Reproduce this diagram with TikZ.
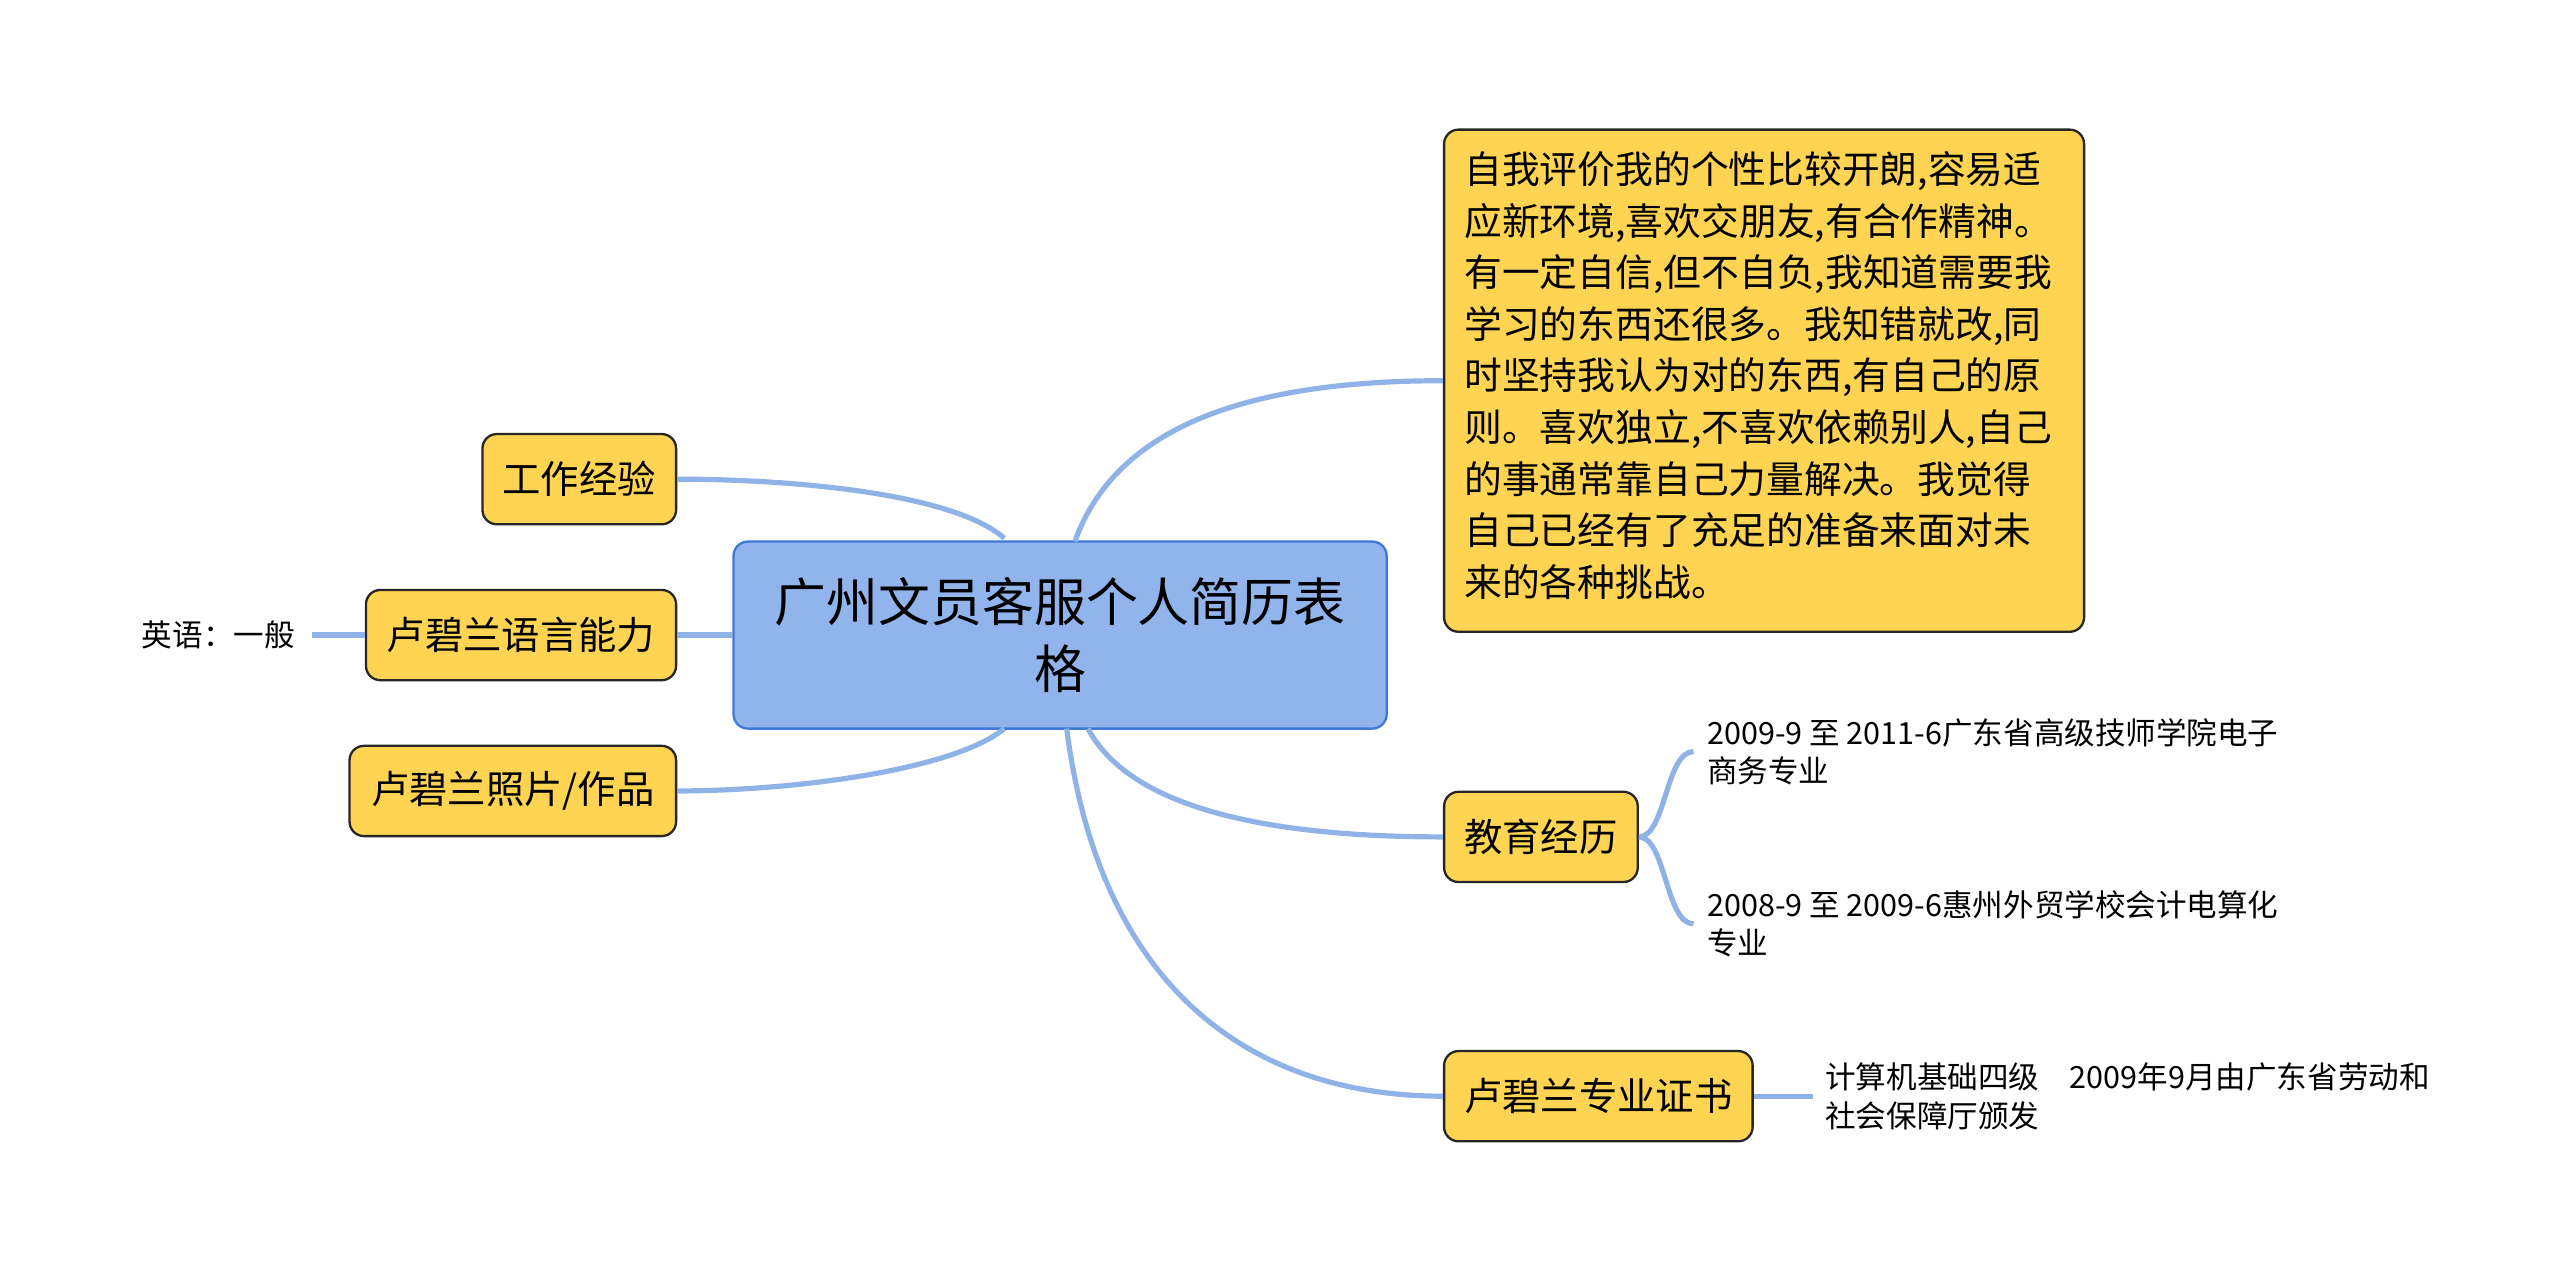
\documentclass[tikz,border=0pt]{standalone}
\usepackage{fontspec}
\setmainfont{Noto Sans CJK SC}
\usepackage{tikz}
\definecolor{linkblue}{HTML}{8FB3E6}
\definecolor{rootfill}{HTML}{92B4EC}
\definecolor{rootdraw}{HTML}{3F78D6}
\definecolor{leaffill}{HTML}{FFD452}
\tikzset{
  topic/.style={draw=black!85, fill=leaffill, rounded corners=5pt, line width=0.8pt, inner sep=0pt, font=\fontsize{13.3}{16}\selectfont},
  note/.style={inner sep=0pt, align=left, font=\fontsize{10.6}{13.3}\selectfont},
  link/.style={draw=linkblue, line width=1.8pt}
}
\begin{document}
\begin{tikzpicture}[x=0.02cm, y=-0.02cm]
\useasboundingbox (0,0) rectangle (1560,776);
\tikzstyle{every node}+=[anchor=center]
\node [draw=rootdraw, fill=rootfill, rounded corners=5pt, line width=0.8pt, minimum width=398*0.02cm, minimum height=114*0.02cm, align=center, font=\fontsize{18}{23}\selectfont] (root) at (646,387) {广州文员客服个人简历表\\格};
\node [topic, minimum width=390*0.02cm, minimum height=306*0.02cm] (self) at (1075,232) {};
\node [anchor=north west, align=left, inner sep=0pt, font=\fontsize{13.1}{17.9}\selectfont] (selftext) at (892,92) {自我评价我的个性比较开朗,容易适\\应新环境,喜欢交朋友,有合作精神。\\有一定自信,但不自负,我知道需要我\\学习的东西还很多。我知错就改,同\\时坚持我认为对的东西,有自己的原\\则。喜欢独立,不喜欢依赖别人,自己\\的事通常靠自己力量解决。我觉得\\自己已经有了充足的准备来面对未\\来的各种挑战。};
\node [topic, minimum width=118*0.02cm, minimum height=55*0.02cm] (work) at (353,292) {工作经验};
\node [topic, minimum width=189*0.02cm, minimum height=55*0.02cm] (lang) at (317.5,387) {卢碧兰语言能力};
\node [topic, minimum width=199*0.02cm, minimum height=55*0.02cm] (photo) at (312.5,482) {卢碧兰照片/作品};
\node [topic, minimum width=118*0.02cm, minimum height=55*0.02cm] (edu) at (939,510) {教育经历};
\node [topic, minimum width=188*0.02cm, minimum height=55*0.02cm] (cert) at (974,668) {卢碧兰专业证书};
\node [note, anchor=east] (eng) at (180,387) {英语：一般};
\node [note, anchor=west] (edu1) at (1040,458) {2009-9 至 2011-6广东省高级技师学院电子\\商务专业};
\node [note, anchor=west] (edu2) at (1040,563) {2008-9 至 2009-6惠州外贸学校会计电算化\\专业};
\node [note, anchor=west] (certx) at (1112,668) {计算机基础四级\quad 2009年9月由广东省劳动和\\社会保障厅颁发};
% connectors
\draw [link] (655,330) .. controls (680,260) and (760,232) .. (self.west);
\draw [link] (612,328) .. controls (580,300) and (480,292) .. (work.east);
\draw [link] (root.west) -- (lang.east);
\draw [link] (612,444) .. controls (580,470) and (480,482) .. (photo.east);
\draw [link] (663,444) .. controls (690,495) and (780,510) .. (edu.west);
\draw [link] (650,444) .. controls (670,600) and (760,668) .. (cert.west);
\draw [link] (190,387) -- (lang.west);
\draw [link] (cert.east) -- (1105,668);
\draw [link] (edu.east) .. controls (1015,510) and (1015,458) .. (1032,458);
\draw [link] (edu.east) .. controls (1015,510) and (1015,563) .. (1032,563);
\end{tikzpicture}
\end{document}
